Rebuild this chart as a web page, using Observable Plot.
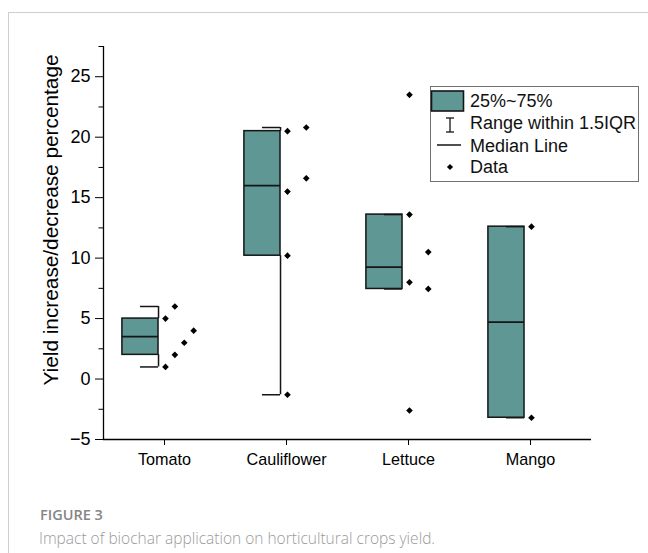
<!DOCTYPE html>
<html>
<head>
<meta charset="utf-8">
<script src="https://cdn.jsdelivr.net/npm/d3@7"></script>
<script src="https://cdn.jsdelivr.net/npm/@observablehq/plot@0.6"></script>
<style>
  html, body { margin: 0; padding: 0; background: #fff; }
  #wrap { position: relative; width: 648px; height: 553px; overflow: hidden; font-family: "Liberation Sans", Arial, sans-serif; }
  #frame { position: absolute; left: 8px; top: 12px; width: 700px; height: 600px; border-top: 1px solid #cfcfcf; border-left: 1px solid #cfcfcf; }
  #chart { position: absolute; left: 0; top: 0; }
  #legend { position: absolute; left: 430px; top: 86px; }
  #fig { position: absolute; left: 40px; top: 508px; font-family: "Open Sans", sans-serif; font-weight: 600; font-size: 14.5px; color: #858585; line-height: 1; }
  #cap { position: absolute; left: 39px; top: 531px; font-family: "Open Sans", sans-serif; font-weight: 300; font-size: 15.5px; color: #9a9a9a; line-height: 1; white-space: nowrap; }
</style>
</head>
<body>
<div id="wrap">
  <div id="frame"></div>
  <div id="chart"></div>
  <div id="legend"></div>
  <div id="fig">FIGURE 3</div>
  <div id="cap">Impact of biochar application on horticultural crops yield.</div>
</div>
<script>
// ---- data ----
const crops = ["Tomato", "Cauliflower", "Lettuce", "Mango"];
const q1 = [2, 10.2, 7.45, -3.2];
const median = [3.5, 16.0, 9.25, 4.7];
const q3 = [5, 20.5, 13.6, 12.6];
const whiskerLo = [1, -1.3, 7.45, -3.2];
const whiskerHi = [6, 20.8, 13.6, 12.6];

const tomatoValues = [6, 5, 4, 3, 2, 1];
const tomatoJitter = [1, 0, 3, 2, 1, 0];
const cauliflowerValues = [20.8, 20.5, 16.6, 15.5, 10.2, -1.3];
const cauliflowerJitter = [2, 0, 2, 0, 0, 0];
const lettuceValues = [23.5, 13.6, 10.5, 8.0, 7.45, -2.6];
const lettuceJitter = [0, 0, 2, 0, 2, 0];
const mangoValues = [12.6, -3.2];
const mangoJitter = [0, 0];

const yMajorTicks = [-5, 0, 5, 10, 15, 20, 25];
const yMinorTicks = [-2.5, 2.5, 7.5, 12.5, 17.5, 22.5, 27.5];
const yDomain = [-5, 27.5];
const xDomain = [-0.5, 3.5];
const yLabel = "Yield increase/decrease percentage";
const legendLabels = ["25%~75%", "Range within 1.5IQR", "Median Line", "Data"];

// ---- styling / layout constants ----
const TEAL = "#5f9794";
const BOX_OFF = -0.197, BOX_HALF = 0.148, DOT_OFF = 0.008, DOT_STEP = 0.077;

const boxes = crops.map((c, i) => ({i, crop: c, q1: q1[i], med: median[i], q3: q3[i], lo: whiskerLo[i], hi: whiskerHi[i]}));
const series = [[tomatoValues, tomatoJitter], [cauliflowerValues, cauliflowerJitter], [lettuceValues, lettuceJitter], [mangoValues, mangoJitter]];
const points = series.flatMap(([vals, jit], i) => vals.map((v, k) => ({i, v, j: jit[k]})));

const cx = d => d.i + BOX_OFF;
const left = d => d.i + BOX_OFF - BOX_HALF;
const right = d => d.i + BOX_OFF + BOX_HALF;
const ink = "#151515";

const chart = Plot.plot({
  width: 648,
  height: 490,
  marginTop: 46,
  marginBottom: 51,
  marginLeft: 103,
  marginRight: 57,
  style: {fontFamily: "'Liberation Sans', Arial, sans-serif", background: "transparent", color: "black", overflow: "visible"},
  x: {domain: xDomain},
  y: {domain: yDomain},
  marks: [
    Plot.rect(boxes, {x1: left, x2: right, y1: "q1", y2: "q3", fill: TEAL, stroke: ink, strokeWidth: 1.5}),
    Plot.ruleY(boxes, {x1: left, x2: right, y: "med", stroke: ink, strokeWidth: 1.8}),
    Plot.ruleX(boxes, {x: right, y1: "q3", y2: "hi", stroke: ink, strokeWidth: 1.5}),
    Plot.ruleX(boxes, {x: right, y1: "lo", y2: "q1", stroke: ink, strokeWidth: 1.5}),
    Plot.ruleY(boxes, {x1: cx, x2: right, y: "hi", stroke: ink, strokeWidth: 1.5}),
    Plot.ruleY(boxes, {x1: cx, x2: right, y: "lo", stroke: ink, strokeWidth: 1.5}),
    Plot.dot(points, {x: d => d.i + DOT_OFF + d.j * DOT_STEP, y: "v", symbol: "diamond2", r: 3, fill: "black", stroke: null}),
    Plot.ruleX([xDomain[0]], {y1: yDomain[0], y2: yDomain[1], stroke: "black", strokeWidth: 1.3}),
    Plot.ruleY([yDomain[0]], {x1: xDomain[0], x2: xDomain[1], stroke: "black", strokeWidth: 1.3}),
    Plot.axisY({ticks: yMajorTicks, tickSize: 8, tickPadding: 5, fontSize: 18, label: null, tickFormat: d => d < 0 ? "\u2212" + Math.abs(d) : String(d)}),
    Plot.axisY({ticks: yMinorTicks, tickSize: 4.5, tickFormat: () => "", label: null}),
    Plot.axisX({ticks: [0, 1, 2, 3], tickFormat: i => crops[i], tickSize: 6, tickPadding: 8, fontSize: 16.2, label: null}),
    Plot.text([yLabel], {frameAnchor: "left", dx: -52, dy: -23, rotate: -90, fontSize: 20.8, fill: "black", textAnchor: "middle", lineAnchor: "middle"})
  ]
});
document.getElementById("chart").appendChild(chart);

// ---- legend ----
const lg = d3.select("#legend").append("svg").attr("width", 210).attr("height", 97)
  .style("font-family", "'Liberation Sans', Arial, sans-serif").style("overflow", "visible");
lg.append("rect").attr("x", 0.5).attr("y", 0.5).attr("width", 208).attr("height", 95).attr("fill", "#fff").attr("stroke", "#707070").attr("stroke-width", 1);
lg.append("rect").attr("x", 1.5).attr("y", 5).attr("width", 32).attr("height", 20).attr("fill", TEAL).attr("stroke", ink).attr("stroke-width", 1.6);
// I-beam
lg.append("line").attr("x1", 20).attr("x2", 20).attr("y1", 32).attr("y2", 46).attr("stroke", ink).attr("stroke-width", 1.3);
lg.append("line").attr("x1", 16).attr("x2", 24).attr("y1", 32).attr("y2", 32).attr("stroke", ink).attr("stroke-width", 1.3);
lg.append("line").attr("x1", 16).attr("x2", 24).attr("y1", 46).attr("y2", 46).attr("stroke", ink).attr("stroke-width", 1.3);
// median line
lg.append("line").attr("x1", 7).attr("x2", 31).attr("y1", 59).attr("y2", 59).attr("stroke", ink).attr("stroke-width", 1.5);
// data symbol
lg.append("path").attr("d", d3.symbol(d3.symbolDiamond2, 24)()).attr("transform", "translate(20,81)").attr("fill", "black");
const baselines = [21, 43, 66, 87];
legendLabels.forEach((t, k) => {
  lg.append("text").attr("x", 40).attr("y", baselines[k]).attr("font-size", 18).attr("fill", "#111").text(t);
});
</script>
</body>
</html>
